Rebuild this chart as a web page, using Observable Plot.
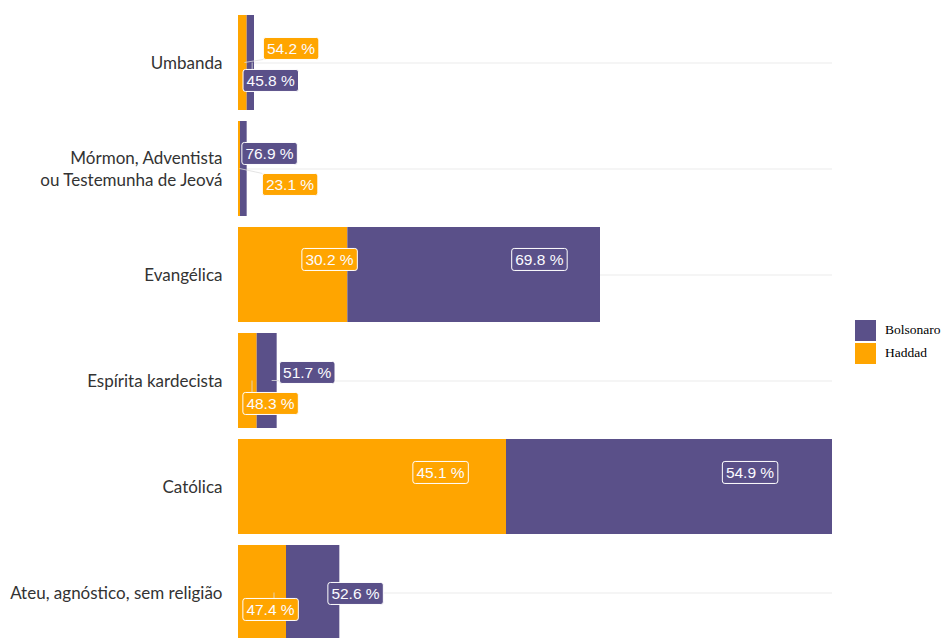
<!DOCTYPE html>
<html><head><meta charset="utf-8">
<script src="https://cdn.jsdelivr.net/npm/d3@7"></script>
<script src="https://cdn.jsdelivr.net/npm/@observablehq/plot@0.6"></script>
<style>
html,body{margin:0;padding:0;background:#fff;overflow:hidden;}
#wrap{position:relative;width:942px;height:638px;overflow:hidden;}
#legend{position:absolute;left:855px;top:319px;font-family:"Liberation Serif";font-size:13.5px;color:#000;}
.item{display:flex;align-items:center;height:22px;margin-bottom:1px;}
.sw{width:21px;height:21px;margin-right:9px;}
</style></head><body><div id="wrap"><div id="chart"></div><div id="legend"></div></div>
<script>
const categories = ["Umbanda","Mórmon, Adventista\nou Testemunha de Jeová","Evangélica","Espírita kardecista","Católica","Ateu, agnóstico, sem religião"];
const haddad = [13, 3, 164, 28, 402, 72];
const bolsonaro = [11, 10, 379, 30, 489, 80];
const legendOrder = ["Bolsonaro", "Haddad"];
const colors = {Bolsonaro: "#5A5089", Haddad: "#FFA500"};
// repel-style label nudges in pixels [dx, dy], per category
const nudgeHaddad = [[46,-14],[50,16],[9,-15],[18,23],[1,-14],[-4,17]];
const nudgeBolsonaro = [[18,18],[24,-15],[2,-15],[35,-8],[-1,-14],[29,1]];

const rows = categories.flatMap((c, i) => [
  {cat: c, cand: "Haddad", n: haddad[i]},
  {cat: c, cand: "Bolsonaro", n: bolsonaro[i]}
]);
const totals = categories.map((c, i) => haddad[i] + bolsonaro[i]);
const xmax = d3.max(totals);
const fmt = v => (v * 100).toFixed(1) + " %";
const labels = [];
categories.forEach((c, i) => {
  labels.push({cat: c, cand: "Haddad", ax: haddad[i] * 0.75, label: fmt(haddad[i] / totals[i]), nudge: nudgeHaddad[i]});
  labels.push({cat: c, cand: "Bolsonaro", ax: haddad[i] + bolsonaro[i] * 0.75, label: fmt(bolsonaro[i] / totals[i]), nudge: nudgeBolsonaro[i]});
});

const plot = Plot.plot({
  width: 942, height: 653,
  marginLeft: 238, marginRight: 110, marginTop: 2.5, marginBottom: 0,
  x: {domain: [0, xmax], axis: null},
  y: {domain: categories, axis: null, padding: 0.1},
  color: {domain: legendOrder, range: legendOrder.map(k => colors[k])},
  marks: [
    Plot.ruleY(categories, {y: d => d, stroke: "#ebebeb", strokeWidth: 1}),
    Plot.barX(rows, {x: "n", y: "cat", fill: "cand", order: ["Haddad", "Bolsonaro"]}),
    Plot.text(categories, {x: d => 0, y: d => d, text: d => d, dx: -16, dy: -1.5, textAnchor: "end", fontSize: 17, lineHeight: 1.3, fontFamily: "Lato", fill: "#333", ariaDescription: "cats"}),
    ...labels.map((L, i) => Plot.text([L], {x: "ax", y: "cat", text: "label", dx: L.nudge[0], dy: L.nudge[1], fill: "white", fontSize: 15.5, fontFamily: "Liberation Sans", ariaDescription: "lbl-" + i}))
  ]
});
document.getElementById("chart").append(plot);

// label boxes and repel segments
const ns = "http://www.w3.org/2000/svg";
const sx = plot.scale("x"), sy = plot.scale("y");
const layer = document.createElementNS(ns, "g");
let firstGroup = null;
labels.forEach((L, i) => {
  const g = plot.querySelector(`g[aria-description="lbl-${i}"]`);
  if (!g) return;
  if (!firstGroup) firstGroup = g;
  const t = g.querySelector("text");
  t.style.fontSize = "15.5px";
  t.style.fontFamily = '"Liberation Sans", Arial, sans-serif';
  t.style.fill = "#fbfbff";
  const base = plot.getBoundingClientRect();
  const r = t.getBoundingClientRect();
  const px = 3.5, py = 2.5;
  const bx = r.left - base.left - px, by = r.top - base.top - py;
  const bw = r.width + 2 * px, bh = r.height + 2 * py;
  const axp = sx.apply(L.ax), ayp = sy.apply(L.cat) + sy.bandwidth / 2;
  const nx = Math.max(bx, Math.min(axp, bx + bw)), nyy = Math.max(by, Math.min(ayp, by + bh));
  if (Math.hypot(nx - axp, nyy - ayp) > 5) {
    const ln = document.createElementNS(ns, "line");
    ln.setAttribute("x1", axp); ln.setAttribute("y1", ayp);
    ln.setAttribute("x2", nx); ln.setAttribute("y2", nyy);
    ln.setAttribute("stroke", "#dddddd"); ln.setAttribute("stroke-width", 0.8);
    layer.appendChild(ln);
  }
  const rect = document.createElementNS(ns, "rect");
  rect.setAttribute("x", bx); rect.setAttribute("y", by);
  rect.setAttribute("width", bw); rect.setAttribute("height", bh);
  rect.setAttribute("rx", 2.5);
  rect.setAttribute("fill", colors[L.cand]);
  rect.setAttribute("stroke", "white"); rect.setAttribute("stroke-width", 1);
  layer.appendChild(rect);
});
if (firstGroup) plot.insertBefore(layer, firstGroup);

// legend
const leg = document.getElementById("legend");
legendOrder.forEach(k => {
  const it = document.createElement("div"); it.className = "item";
  const sw = document.createElement("div"); sw.className = "sw"; sw.style.background = colors[k];
  const tx = document.createElement("span"); tx.textContent = k;
  it.append(sw, tx); leg.append(it);
});
</script></body></html>
